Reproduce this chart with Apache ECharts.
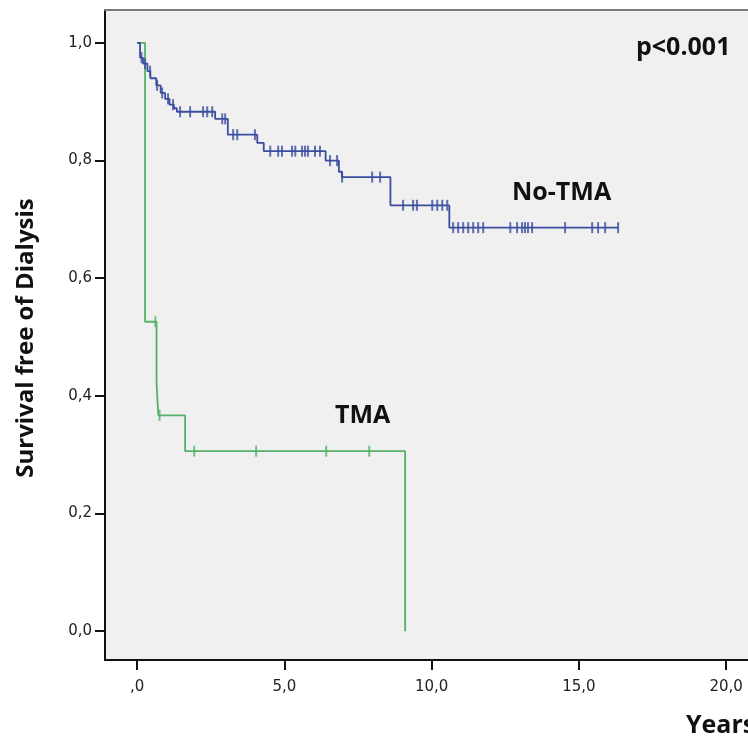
<!DOCTYPE html>
<html><head><meta charset="utf-8">
<script src="https://cdn.jsdelivr.net/npm/echarts@6/dist/echarts.min.js"></script>
<style>html,body{margin:0;padding:0;background:#fff}#c{width:748px;height:736px}</style>
</head><body><div id="c"></div>
<script>
// Tick values and labels
const xTickValues = [0, 5, 10, 15, 20];
const xTickLabels = [',0', '5,0', '10,0', '15,0', '20,0'];
const yTickValues = [0, 0.2, 0.4, 0.6, 0.8, 1.0];
const yTickLabels = ['0,0', '0,2', '0,4', '0,6', '0,8', '1,0'];

// No-TMA group: event times (years) and survival after each event
const noTmaTimes = [0, 0.10, 0.20, 0.35, 0.45, 0.65, 0.80, 0.95, 1.10, 1.25, 1.35, 2.65, 3.08, 4.08, 4.30, 6.40, 6.85, 6.95, 8.60, 10.60];
const noTmaSurv  = [1.0, 0.975, 0.965, 0.952, 0.940, 0.928, 0.915, 0.905, 0.895, 0.889, 0.883, 0.871, 0.844, 0.830, 0.816, 0.800, 0.781, 0.772, 0.724, 0.686];
const noTmaEnd = 16.33;
const noTmaCensored = [0.15, 0.27, 0.44, 0.68, 0.85, 1.05, 1.22, 1.46, 1.80, 2.24, 2.38, 2.55, 2.89, 2.99,
  3.26, 3.40, 4.00, 4.52, 4.79, 4.92, 5.26, 5.37, 5.60, 5.70, 5.80, 6.04, 6.21, 6.55, 6.79, 6.96, 7.98, 8.25,
  9.03, 9.37, 9.50, 10.02, 10.19, 10.36, 10.53, 10.73, 10.90, 11.07, 11.24, 11.41, 11.58, 11.75,
  12.67, 12.90, 13.07, 13.17, 13.27, 13.41, 14.53, 15.45, 15.65, 15.89, 16.33];

// TMA group
const tmaTimes = [0, 0.27, 0.66, 0.72, 1.63, 9.10];
const tmaSurv  = [1.0, 0.526, 0.421, 0.367, 0.306, 0.0];
const tmaEnd = 9.10;
const tmaCensored = [0.62, 0.76, 1.94, 4.04, 6.42, 7.88];

function stepPath(times, surv, end) {
  const pts = [];
  for (let i = 0; i < times.length; i++) {
    if (i > 0) pts.push([times[i], surv[i - 1]]);
    pts.push([times[i], surv[i]]);
  }
  pts.push([end, surv[surv.length - 1]]);
  return pts;
}
function survAt(times, surv, t) {
  let s = surv[0];
  for (let i = 0; i < times.length; i++) if (times[i] <= t) s = surv[i];
  return s;
}
function labelFor(values, labels) {
  return function (v) {
    const i = values.findIndex(x => Math.abs(x - v) < 1e-9);
    return i >= 0 ? labels[i] : '';
  };
}

const BLUE = '#3a4d9f';
const GREEN = '#55b068';
const X_MIN = -1.09, X_MAX = 20.74;
const chart = echarts.init(document.getElementById('c'));
chart.setOption({
  animation: false,
  backgroundColor: '#ffffff',
  grid: { left: 105, top: 10, right: 0, bottom: 76, show: true,
    backgroundColor: '#f0f0f0', borderWidth: 0 },
  xAxis: [{
    type: 'value', min: X_MIN, max: X_MAX,
    axisLine: { show: true, onZero: false, lineStyle: { color: '#111', width: 2 } },
    axisTick: { show: true, customValues: xTickValues, length: 10, lineStyle: { color: '#111', width: 2 } },
    axisLabel: { customValues: xTickValues, formatter: labelFor(xTickValues, xTickLabels),
      margin: 20, fontFamily: 'DejaVu Sans', fontSize: 15, color: '#222' },
    splitLine: { show: false }
  }, {
    type: 'value', position: 'top', min: X_MIN, max: X_MAX,
    axisLine: { show: true, onZero: false, lineStyle: { color: '#7a7a7a', width: 2 } },
    axisTick: { show: false }, axisLabel: { show: false }, splitLine: { show: false }
  }],
  yAxis: {
    type: 'value', min: -0.049, max: 1.056,
    axisLine: { show: true, onZero: false, lineStyle: { color: '#111', width: 2 } },
    axisTick: { show: true, customValues: yTickValues, length: 10, lineStyle: { color: '#111', width: 2 } },
    axisLabel: { customValues: yTickValues, formatter: labelFor(yTickValues, yTickLabels),
      margin: 13, fontFamily: 'DejaVu Sans', fontSize: 15, color: '#222' },
    splitLine: { show: false }
  },
  series: [
    { type: 'line', data: stepPath(tmaTimes, tmaSurv, tmaEnd), showSymbol: false, symbol: 'none',
      lineStyle: { color: GREEN, width: 1.8 }, z: 2 },
    { type: 'scatter', data: tmaCensored.map(t => [t, survAt(tmaTimes, tmaSurv, t)]),
      symbol: 'rect', symbolSize: [2, 11], itemStyle: { color: GREEN }, z: 3 },
    { type: 'line', data: stepPath(noTmaTimes, noTmaSurv, noTmaEnd), showSymbol: false, symbol: 'none',
      lineStyle: { color: BLUE, width: 1.8 }, z: 4 },
    { type: 'scatter', data: noTmaCensored.map(t => [t, survAt(noTmaTimes, noTmaSurv, t)]),
      symbol: 'rect', symbolSize: [2, 11], itemStyle: { color: BLUE }, z: 5 }
  ],
  graphic: [
    { type: 'text', z: 10, style: { text: 'No-TMA', x: 512, y: 193, verticalAlign: 'middle',
      font: 'bold 25px "Open Sans"', fill: '#111' } },
    { type: 'text', z: 10, style: { text: 'TMA', x: 335, y: 416, verticalAlign: 'middle',
      font: 'bold 25px "Open Sans"', fill: '#111' } },
    { type: 'text', z: 10, style: { text: 'p<0.001', x: 636, y: 48, verticalAlign: 'middle',
      font: 'bold 25px "Open Sans"', fill: '#111' } },
    { type: 'text', z: 10, style: { text: 'Years', x: 686, y: 726, verticalAlign: 'middle',
      font: 'bold 25px "Open Sans"', fill: '#111' } },
    { type: 'text', z: 10, x: 26, y: 338, rotation: Math.PI / 2,
      style: { text: 'Survival free of Dialysis', x: 0, y: 0, align: 'center', verticalAlign: 'middle',
      font: 'bold 24px "Open Sans"', fill: '#111' } }
  ]
});
</script></body></html>
